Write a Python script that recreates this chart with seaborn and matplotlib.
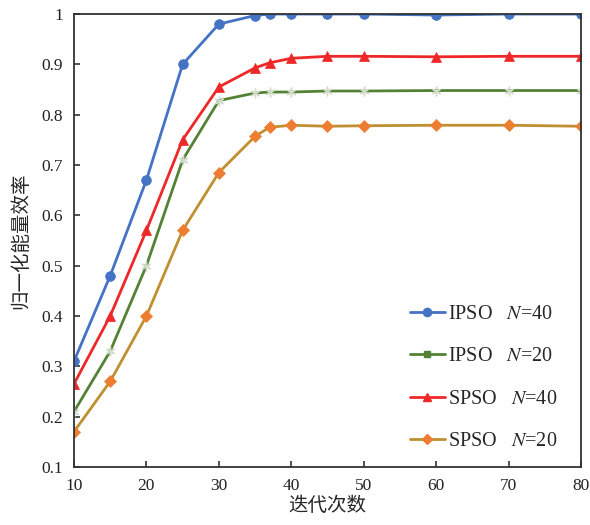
import matplotlib
matplotlib.use("Agg")
import matplotlib.pyplot as plt
from matplotlib.lines import Line2D
import seaborn as sns
import pandas as pd

iterations = [10, 15, 20, 25, 30, 35, 37, 40, 45, 50, 60, 70, 80]
ipso_40 = [0.31, 0.48, 0.67, 0.90, 0.98, 0.997, 1.0, 1.0, 1.0, 1.0, 0.998, 1.0, 1.0]
ipso_20 = [0.21, 0.33, 0.50, 0.71, 0.828, 0.843, 0.845, 0.845, 0.847, 0.847, 0.848, 0.848, 0.848]
spso_40 = [0.265, 0.40, 0.57, 0.75, 0.855, 0.893, 0.903, 0.912, 0.916, 0.916, 0.915, 0.916, 0.916]
spso_20 = [0.17, 0.27, 0.40, 0.57, 0.685, 0.757, 0.775, 0.779, 0.777, 0.778, 0.779, 0.779, 0.777]

labels = ["IPSO   $N$=40", "IPSO   $N$=20", "SPSO   $N$=40", "SPSO   $N$=20"]
xticks = [10, 20, 30, 40, 50, 60, 70, 80]
yticks = [0.1, 0.2, 0.3, 0.4, 0.5, 0.6, 0.7, 0.8, 0.9, 1.0]
ytick_labels = ["0.1", "0.2", "0.3", "0.4", "0.5", "0.6", "0.7", "0.8", "0.9", "1"]

sns.set_style("ticks")
plt.rcParams['font.family'] = ['Liberation Serif', 'Noto Sans CJK SC']
plt.rcParams['mathtext.fontset'] = 'stix'

fig = plt.figure(figsize=(5.9, 5.25), dpi=100)
ax = fig.add_axes([0.1254, 0.1105, 0.8593, 0.8628])

styles = [
    dict(line="#4472c4", mk="#4472c4", marker="o", ms=7, legend_marker="o"),
    dict(line="#548235", mk="#d2dccb", marker=(6, 2, 0), ms=7, legend_marker="s"),
    dict(line="#ee2828", mk="#ee2828", marker="^", ms=7.5, legend_marker="^"),
    dict(line="#bf8f30", mk="#ed7d31", marker="D", ms=6, legend_marker="D"),
]
series = [ipso_40, ipso_20, spso_40, spso_20]

handles = []
for vals, st, lab in zip(series, styles, labels):
    df = pd.DataFrame({"x": iterations, "y": vals})
    sns.lineplot(data=df, x="x", y="y", ax=ax, color=st["line"], lw=2.0,
                 marker=st["marker"], markersize=st["ms"],
                 markerfacecolor=st["mk"], markeredgecolor=st["mk"],
                 markeredgewidth=1.0 if st["legend_marker"] == "s" else 0.5)
    lms = 5 if st["legend_marker"] == "s" else st["ms"] * 0.85
    mcol = st["line"] if st["legend_marker"] == "s" else st["mk"]
    handles.append(Line2D([0], [0], color=st["line"], lw=2.0, marker=st["legend_marker"],
                          markersize=lms, markerfacecolor=mcol, markeredgecolor=mcol))

ax.set_xlim(10, 80)
ax.set_ylim(0.1, 1.0)
ax.set_xticks(xticks)
ax.set_yticks(yticks)
ax.set_yticklabels(ytick_labels)
ax.tick_params(direction="in", length=4, width=1.2, labelsize=12.5, colors="#333333",
               labelcolor="#222222", pad=8)
for s in ax.spines.values():
    s.set_color("#333333")
    s.set_linewidth(1.3)

ax.set_xlabel("迭代次数", fontsize=14, labelpad=2)
ax.set_ylabel("归一化能量效率", fontsize=14, labelpad=8)

ax.legend(handles, labels, loc="lower right", bbox_to_anchor=(0.985, 0.0), frameon=False,
          fontsize=14.5, labelspacing=1.15, handlelength=1.75, handletextpad=0.15,
          borderaxespad=0.4)

fig.savefig("out.png", dpi=100)
